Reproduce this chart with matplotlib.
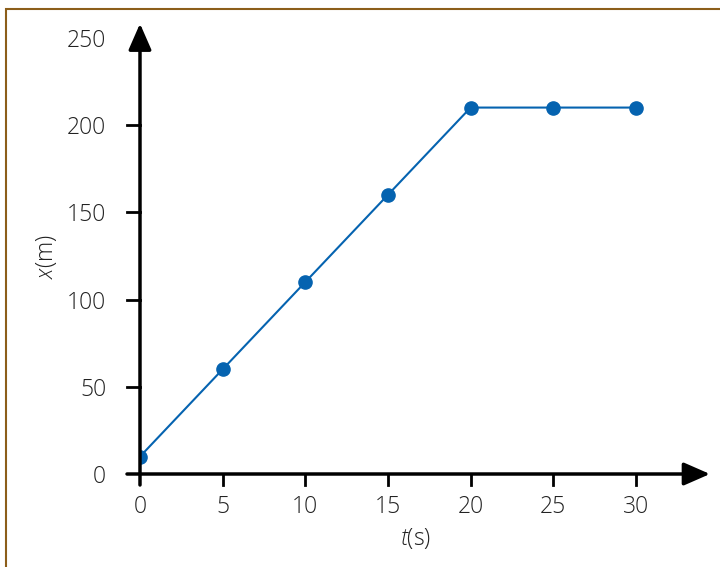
import matplotlib
matplotlib.use("Agg")
import matplotlib.pyplot as plt
from matplotlib.patches import Rectangle

plt.rcParams['font.family'] = ['Open Sans', 'DejaVu Sans']
plt.rcParams['font.weight'] = 'light'
plt.rcParams['mathtext.fontset'] = 'custom'
plt.rcParams['mathtext.it'] = 'Open Sans:italic:light'
plt.rcParams['mathtext.rm'] = 'Open Sans:light'

# data
t = [0, 5, 10, 15, 20, 25, 30]
x = [10, 60, 110, 160, 210, 210, 210]
xticks = [0, 5, 10, 15, 20, 25, 30]
yticks = [0, 50, 100, 150, 200, 250]

fig = plt.figure(figsize=(7.2, 5.67), dpi=100)
fig.patches.append(Rectangle((6 / 720, -0.1), 1.2, (567 - 9) / 567 + 0.1,
                             transform=fig.transFigure, fill=False,
                             edgecolor='#8c5e1a', linewidth=1.5))

ax = fig.add_axes([127 / 720, 82 / 567, 578 / 720, 457 / 567])
xmin, xmax = -0.786, 34.18
ymin, ymax = -6.3, 255.6
ax.set_xlim(xmin, xmax)
ax.set_ylim(ymin, ymax)
for s in ax.spines.values():
    s.set_visible(False)
ax.patch.set_alpha(0)

# axes with arrows
arrow = dict(arrowstyle='-|>,head_length=1.6,head_width=0.7',
             color='black', lw=2.5, shrinkA=0, shrinkB=0)
ax.annotate('', xy=(xmax + 0.3, 0), xytext=(xmin, 0), arrowprops=arrow,
            zorder=5, annotation_clip=False)
ax.annotate('', xy=(0, ymax + 2.5), xytext=(0, ymin), arrowprops=arrow,
            zorder=5, annotation_clip=False)

line, = ax.plot(t, x, color='#0563b0', lw=1.5, marker='o', markersize=9.5, zorder=3)
line.set_clip_path(Rectangle((0, ymin), 40, 300, transform=ax.transData))

ax.set_xticks(xticks)
ax.set_yticks(yticks)
ax.tick_params(axis='x', length=0, labelsize=16.5, labelcolor='#222222', pad=7)
ax.tick_params(axis='y', length=0, labelsize=16.5, labelcolor='#222222', pad=15)
# short tick marks
for v in xticks[1:]:
    ax.plot([v, v], [0, -6.3], color='black', lw=2, clip_on=False)
for v in yticks[1:-1]:
    ax.plot([-0.786, 0], [v, v], color='black', lw=2, clip_on=False)

ax.set_xlabel(r'$t$(s)', fontsize=16.5, fontweight='light', color='#222222', labelpad=5)
ax.set_ylabel(r'$x$(m)', fontsize=16.5, fontweight='light', color='#222222', labelpad=6)

fig.savefig('out.png', dpi=100)
